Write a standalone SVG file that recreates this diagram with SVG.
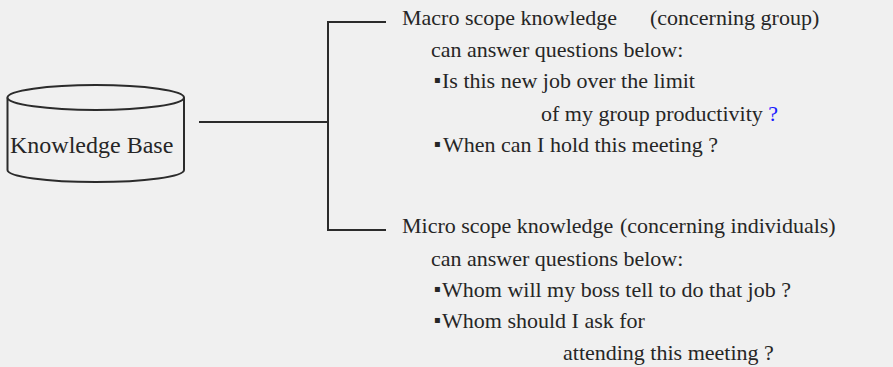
<svg xmlns="http://www.w3.org/2000/svg" width="893" height="367" viewBox="0 0 893 367">
  <style>
    .bg { fill: #f0f0f0; }
    .edge { fill: none; stroke: #2b2b2b; stroke-width: 2; }
    .db { fill: #f0f0f0; stroke: #2b2b2b; stroke-width: 2; }
    text { font-family: 'Liberation Serif', 'Noto Serif', 'DejaVu Serif', serif; font-size: 22px; fill: #262626; }
    .kb { font-size: 24px; }
    .dot { font-family: 'DejaVu Sans', sans-serif; font-size: 10px; }
    .blue { fill: #1a1aff; }
  </style>

  <rect class="bg" x="0" y="0" width="893" height="367"/>

  <!-- database cylinder -->
  <g id="knowledge-base">
    <path class="db" d="M7.5,97.5 L7.5,170 A88.25,12 0 0 0 184,170 L184,97.5"/>
    <ellipse class="db" cx="95.75" cy="97.5" rx="88.25" ry="12.5"/>
    <text class="kb" x="10" y="153">Knowledge Base</text>
  </g>

  <!-- bracket connectors -->
  <g id="connectors">
    <path class="edge" d="M199,122 L328,122"/>
    <path class="edge" d="M386,22 L328,22 L328,230 L386,230"/>
  </g>

  <g id="macro-scope">
    <text x="402" y="25">Macro scope knowledge</text>
    <text x="650" y="25">(concerning group)</text>
    <text x="431" y="57">can answer questions below:</text>
    <text x="434" y="88"><tspan class="dot" dy="-5">▪</tspan><tspan x="442" dy="5">Is this new job over the limit</tspan></text>
    <text x="541" y="121">of my group productivity <tspan class="blue">?</tspan></text>
    <text x="434" y="152"><tspan class="dot" dy="-5">▪</tspan><tspan x="443" dy="5">When can I hold this meeting ?</tspan></text>
  </g>

  <g id="micro-scope">
    <text x="402" y="233">Micro scope knowledge</text>
    <text x="620" y="233">(concerning individuals)</text>
    <text x="431" y="266">can answer questions below:</text>
    <text x="434" y="297"><tspan class="dot" dy="-5">▪</tspan><tspan x="442" dy="5">Whom will my boss tell to do that job ?</tspan></text>
    <text x="434" y="328"><tspan class="dot" dy="-5">▪</tspan><tspan x="442" dy="5">Whom should I ask for</tspan></text>
    <text x="563" y="360">attending this meeting ?</text>
  </g>
</svg>
